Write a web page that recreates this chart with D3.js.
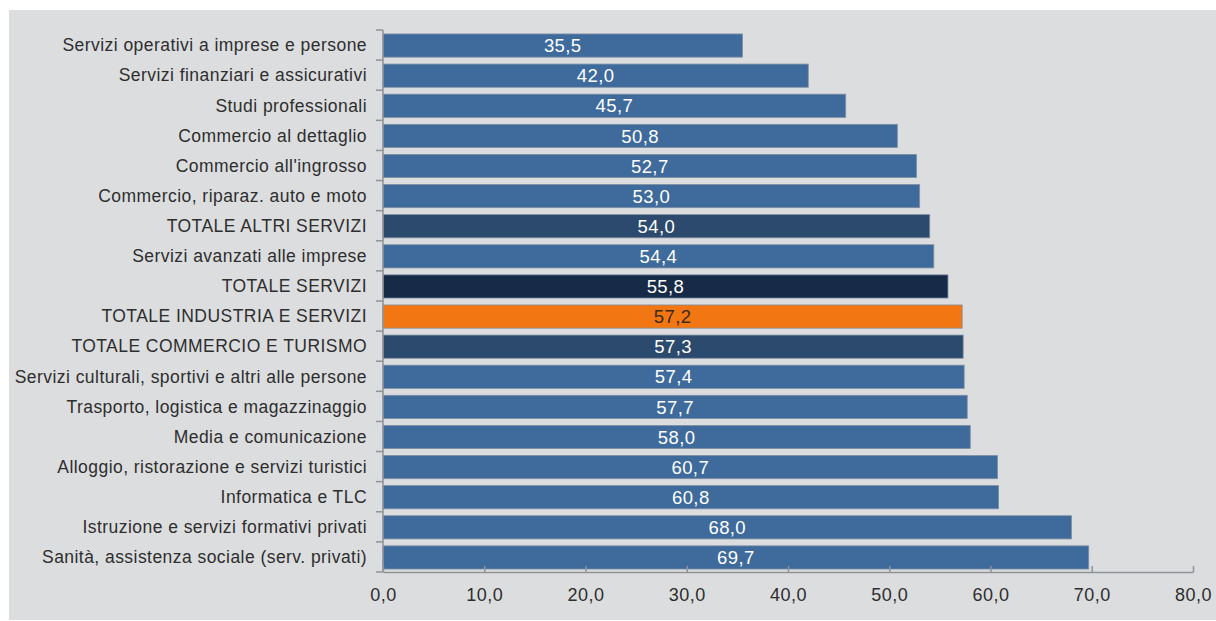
<!DOCTYPE html>
<html><head><meta charset="utf-8">
<script src="https://cdn.jsdelivr.net/npm/d3@7"></script>
<style>body{margin:0;background:#fff;} text{font-family:"Liberation Sans",Arial,sans-serif;}</style>
</head><body>
<svg id="c" width="1216" height="621"></svg>
<script>
const categories = [
"Servizi operativi a imprese e persone",
"Servizi finanziari e assicurativi",
"Studi professionali",
"Commercio al dettaglio",
"Commercio all'ingrosso",
"Commercio, riparaz. auto e moto",
"TOTALE ALTRI SERVIZI",
"Servizi avanzati alle imprese",
"TOTALE SERVIZI",
"TOTALE INDUSTRIA E SERVIZI",
"TOTALE COMMERCIO E TURISMO",
"Servizi culturali, sportivi e altri alle persone",
"Trasporto, logistica e magazzinaggio",
"Media e comunicazione",
"Alloggio, ristorazione e servizi turistici",
"Informatica e TLC",
"Istruzione e servizi formativi privati",
"Sanità, assistenza sociale (serv. privati)"];
const values = [35.5,42.0,45.7,50.8,52.7,53.0,54.0,54.4,55.8,57.2,57.3,57.4,57.7,58.0,60.7,60.8,68.0,69.7];
const barKind = ["n","n","n","n","n","n","t","n","s","o","t","n","n","n","n","n","n","n"];
const xTicks = [0,10,20,30,40,50,60,70,80];

const fills = {n:"#3e6a9c", t:"#2b4a6d", s:"#172a47", o:"#f27611"};
const labelCol = {n:"#ffffff", t:"#ffffff", s:"#ffffff", o:"#3b2a1c"};
const fmt = v => d3.format(".1f")(v).replace(".", ",");

const svg = d3.select("#c");
svg.append("rect").attr("x",9).attr("y",10).attr("width",1207).attr("height",610).attr("fill","#dcdddf");

const x = d3.scaleLinear().domain([0,80]).range([383,1193]);
const y = d3.scaleBand().domain(categories).range([30,572]).paddingInner(0.23).paddingOuter(0.115);

const g = svg.append("g");
g.selectAll("rect.bar").data(categories).join("rect").attr("class","bar")
  .attr("x", x(0)).attr("y", d=>y(d)+0.5).attr("height", y.bandwidth())
  .attr("width", (d,i)=>x(values[i])-x(0))
  .attr("fill", (d,i)=>fills[barKind[i]])
  .attr("stroke", "#7f8fa3").attr("stroke-width",0.8);

g.selectAll("text.val").data(categories).join("text").attr("class","val")
  .attr("x", (d,i)=>(x(0)+x(values[i]))/2).attr("y", d=>y(d)+y.bandwidth()/2+0.5)
  .attr("dy","0.36em").attr("text-anchor","middle")
  .attr("font-size",18.5).attr("letter-spacing",0.4).attr("fill",(d,i)=>labelCol[barKind[i]])
  .text((d,i)=>fmt(values[i]));

// y axis
const yAxis = svg.append("g").attr("transform",`translate(${x(0)},0)`);
yAxis.append("line").attr("x1",0).attr("x2",0).attr("y1",30).attr("y2",572).attr("stroke","#8f9296").attr("stroke-width",1.5);
const step = y.step();
const bounds = d3.range(categories.length+1).map(i=>30+i*step);
yAxis.selectAll("line.tk").data(bounds).join("line").attr("class","tk")
  .attr("x1",-7).attr("x2",0).attr("y1",d=>d).attr("y2",d=>d).attr("stroke","#8f9296").attr("stroke-width",1.5);
yAxis.selectAll("text").data(categories).join("text")
  .attr("x",-16).attr("y",d=>y(d)+y.bandwidth()/2).attr("dy","0.36em")
  .attr("text-anchor","end").attr("font-size",17.5).attr("letter-spacing",0.45).attr("fill","#2e2e2e").text(d=>d);

// x axis
const xAxis = svg.append("g").attr("transform","translate(0,572)");
xAxis.call(d3.axisBottom(x).tickValues(xTicks).tickFormat(fmt).tickSize(6).tickSizeOuter(0));
xAxis.select(".domain").attr("stroke","#8f9296").attr("stroke-width",1.5);
xAxis.selectAll(".tick line").attr("stroke","#8f9296").attr("stroke-width",1.5).attr("y1",-6).attr("y2",0);
xAxis.selectAll(".tick text").attr("font-size",18).attr("letter-spacing",0.5).attr("fill","#2e2e2e").attr("y",16).attr("font-family","Liberation Sans, Arial, sans-serif");
</script>
</body></html>
